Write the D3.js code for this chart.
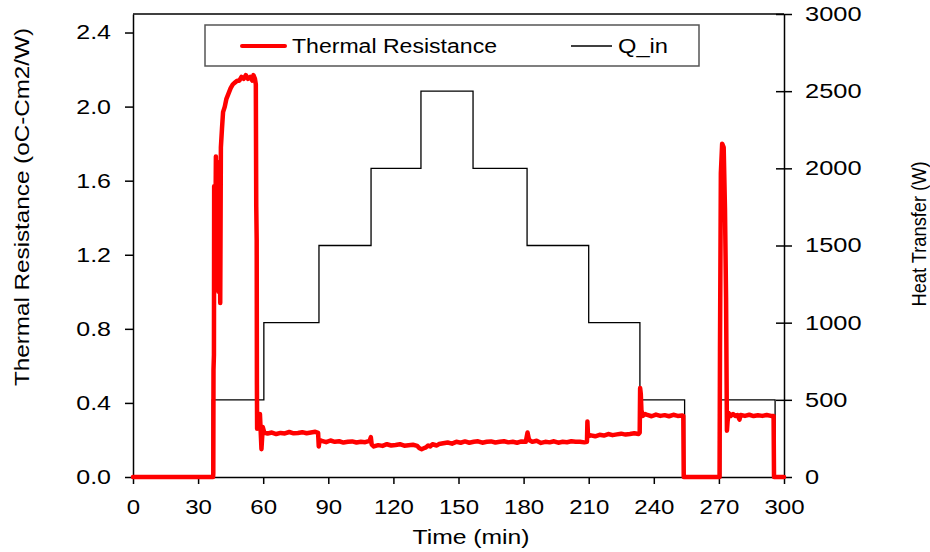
<!DOCTYPE html>
<html>
<head>
<meta charset="utf-8">
<script src="https://cdn.jsdelivr.net/npm/d3@7"></script>
<style>
  body { margin: 0; background: #fff; }
  svg { display: block; font-family: "Liberation Sans", Arial, sans-serif; }
  .axis path, .axis line { stroke: #000; stroke-width: 1.5; }
  .axis text { font-size: 20px; fill: #000; }
</style>
</head>
<body>
<svg id="chart" width="930" height="552"></svg>
<script>
// heat input steps (W), stepped after each time
const qTime  = [0, 36.5, 60.3, 85.7, 109.7, 132.7, 156.7, 181.6, 210, 233.6, 254.2, 270.8, 295.9, 300];
const qValue = [0, 500, 1000, 1500, 2000, 2500, 2000, 1500, 1000, 500, 0, 500, 0, 0];

// thermal resistance
const trTime = [0, 36.9, 37.0, 37.1, 37.3, 37.4, 37.8, 38.2, 38.6, 39.0, 39.4, 39.8, 40.2, 40.5, 41.0, 41.5,
  42.3, 43.0, 44.0, 45.0, 46.0, 47.0, 48.0, 49.0, 50.0, 51.0, 52.0, 53.0, 54.0, 55.0, 55.5, 56.2, 56.6,
  56.8, 57.0, 57.1, 57.2, 57.8, 58.5, 59.2, 59.8, 60.5,
  62, 64, 66, 68, 70, 72, 74, 76, 78, 80, 82, 84, 85.3,
  85.6, 86.0, 87, 89, 91, 93, 95, 97, 99, 101, 103, 105, 107, 109, 109.6,
  110, 111, 113, 115, 117, 119, 121, 123, 125, 127, 129, 131, 132, 133, 134, 135, 136, 137, 138, 140,
  141, 143, 145, 147, 149, 151, 153, 155, 157, 159, 161, 163, 165, 167, 169, 171, 173, 175, 177, 179, 181,
  181.8, 182.5, 184, 186, 188, 190, 192, 194, 196, 198, 200, 202, 204, 206, 208, 209.2, 209.4, 209.7,
  211, 213, 215, 217, 219, 221, 223, 225, 227, 229, 231, 233, 233.5, 233.7, 234.0, 234.3,
  235, 236, 237, 239, 241, 243, 245, 247, 249, 251, 253, 253.6, 253.8, 270.3,
  270.5, 270.9, 271.5, 272.2, 272.8, 273.3, 273.7, 274.0, 274.5, 275.5, 276.5, 277.5, 278.5, 279.5,
  280, 282, 284, 286, 288, 290, 292, 294, 295.2, 295.4, 300];
const trValue = [0, 0, 0.02, 0.58, 0.66, 1.57, 1.05, 1.73, 1.2, 1.70, 1.0, 1.62, 0.94, 1.78, 1.88, 1.97,
  2.0, 2.04, 2.07, 2.10, 2.12, 2.13, 2.14, 2.14, 2.16, 2.15, 2.17, 2.15, 2.16, 2.14, 2.17, 2.15, 2.12,
  1.46, 1.28, 0.50, 0.26, 0.33, 0.34, 0.15, 0.27, 0.24,
  0.235, 0.24, 0.232, 0.238, 0.235, 0.243, 0.236, 0.238, 0.242, 0.236, 0.24, 0.244, 0.238,
  0.165, 0.2, 0.195, 0.188, 0.197, 0.19, 0.193, 0.186, 0.19, 0.192, 0.186, 0.19, 0.188, 0.195, 0.215,
  0.175, 0.165, 0.172, 0.168, 0.177, 0.17, 0.173, 0.177, 0.169, 0.172, 0.174, 0.168, 0.155, 0.15, 0.155, 0.16, 0.17, 0.165, 0.177, 0.17,
  0.178, 0.182, 0.186, 0.18, 0.19, 0.185, 0.192, 0.185, 0.19, 0.193, 0.185, 0.19, 0.192, 0.186, 0.19, 0.193, 0.187, 0.19, 0.185, 0.192, 0.19,
  0.24, 0.2, 0.19, 0.196, 0.184, 0.19, 0.187, 0.193, 0.185, 0.19, 0.188, 0.193, 0.19, 0.19, 0.187, 0.19, 0.3, 0.22,
  0.225, 0.22, 0.228, 0.224, 0.232, 0.226, 0.23, 0.234, 0.229, 0.232, 0.236, 0.232, 0.24, 0.48, 0.45, 0.36,
  0.33, 0.34, 0.335, 0.328, 0.337, 0.33, 0.334, 0.328, 0.336, 0.33, 0.332, 0.33, 0, 0,
  0.68, 1.64, 1.80, 1.78, 1.45, 0.97, 0.25, 0.3, 0.345, 0.33, 0.34, 0.33, 0.335, 0.31,
  0.335, 0.33, 0.336, 0.329, 0.333, 0.33, 0.335, 0.33, 0.33, 0, 0];

const xTicks = [0, 30, 60, 90, 120, 150, 180, 210, 240, 270, 300];
const leftTicks = [0, 0.4, 0.8, 1.2, 1.6, 2.0, 2.4];
const rightTicks = [0, 500, 1000, 1500, 2000, 2500, 3000];

const svg = d3.select("#chart");
const L = 133, R = 784, T = 14, B = 477;

const x = d3.scaleLinear().domain([0, 300]).range([L, R]);
const yL = d3.scaleLinear().domain([0, 2.5]).range([B, T]);
const yR = d3.scaleLinear().domain([0, 3000]).range([B, T]);

// widen text a bit, the original picture is stretched sideways
function stretch(sel, k) {
  sel.each(function () {
    const w = this.getComputedTextLength();
    d3.select(this).attr("textLength", w * k).attr("lengthAdjust", "spacingAndGlyphs");
  });
}

// axes
const gx = svg.append("g").attr("class", "axis").attr("transform", `translate(0,${B})`)
  .call(d3.axisBottom(x).tickValues(xTicks).tickSize(7).tickSizeOuter(0));
gx.selectAll("text").attr("y", 37).attr("dy", 0);
stretch(gx.selectAll("text"), 1.2);

const gl = svg.append("g").attr("class", "axis").attr("transform", `translate(${L},0)`)
  .call(d3.axisLeft(yL).tickValues(leftTicks).tickFormat(d3.format(".1f")).tickSize(8).tickPadding(14).tickSizeOuter(0));
stretch(gl.selectAll("text"), 1.25);

const gr = svg.append("g").attr("class", "axis").attr("transform", `translate(${R},0)`)
  .call(d3.axisRight(yR).tickValues(rightTicks).tickFormat(d3.format("d")).tickSize(8).tickPadding(13).tickSizeOuter(0));
gr.selectAll(".tick line").attr("x1", -8);
stretch(gr.selectAll("text"), 1.27);

// top frame line
svg.append("line").attr("x1", L).attr("x2", R).attr("y1", T).attr("y2", T)
  .attr("stroke", "#000").attr("stroke-width", 1.5);

// Q_in steps
const qLine = d3.line().x((d, i) => x(qTime[i])).y(d => yR(d)).curve(d3.curveStepAfter);
svg.append("path").attr("d", qLine(qValue))
  .attr("fill", "none").attr("stroke", "#000").attr("stroke-width", 1.3);

// thermal resistance
const trLine = d3.line().x((d, i) => x(trTime[i])).y(d => yL(d));
svg.append("path").attr("d", trLine(trValue))
  .attr("fill", "none").attr("stroke", "#ff0000").attr("stroke-width", 4.5)
  .attr("stroke-linejoin", "round").attr("stroke-linecap", "round");

// legend
const lg = svg.append("g");
lg.append("rect").attr("x", 205).attr("y", 25).attr("width", 494).attr("height", 41)
  .attr("fill", "#fff").attr("stroke", "#555").attr("stroke-width", 1.5);
lg.append("line").attr("x1", 242).attr("x2", 285).attr("y1", 46).attr("y2", 46)
  .attr("stroke", "#ff0000").attr("stroke-width", 4).attr("stroke-linecap", "round");
lg.append("text").attr("x", 292).attr("y", 53).attr("font-size", 20)
  .attr("textLength", 205).attr("lengthAdjust", "spacingAndGlyphs").text("Thermal Resistance");
lg.append("line").attr("x1", 571).attr("x2", 612).attr("y1", 46).attr("y2", 46)
  .attr("stroke", "#000").attr("stroke-width", 1.3);
lg.append("text").attr("x", 618).attr("y", 53).attr("font-size", 20)
  .attr("textLength", 50).attr("lengthAdjust", "spacingAndGlyphs").text("Q_in");

// axis titles
svg.append("text").attr("x", 471).attr("y", 544).attr("text-anchor", "middle").attr("font-size", 21)
  .attr("textLength", 117).attr("lengthAdjust", "spacingAndGlyphs").text("Time (min)");
svg.append("text").attr("transform", "translate(29,207) rotate(-90)").attr("text-anchor", "middle")
  .attr("font-size", 21).attr("textLength", 358).attr("lengthAdjust", "spacingAndGlyphs")
  .text("Thermal Resistance (oC-Cm2/W)");
svg.append("text").attr("transform", "translate(926,234) rotate(-90)").attr("text-anchor", "middle")
  .attr("font-size", 20).attr("textLength", 145).attr("lengthAdjust", "spacingAndGlyphs")
  .text("Heat Transfer (W)");
</script>
</body>
</html>
